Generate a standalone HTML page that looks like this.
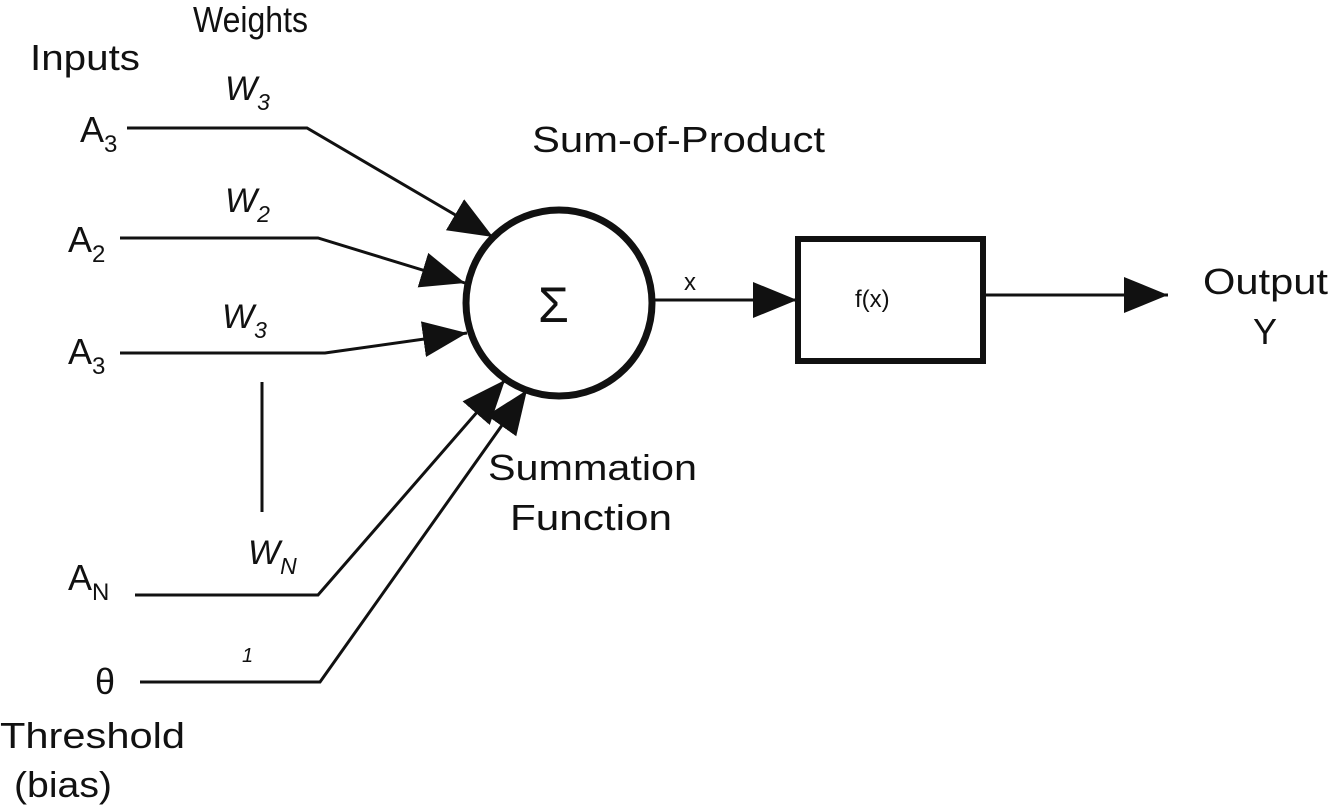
<!DOCTYPE html>
<html><head><style>body{margin:0;background:#fff}svg{display:block}text{font-family:"Liberation Sans",sans-serif;fill:#111}</style></head>
<body>
<svg width="1328" height="808" viewBox="0 0 1328 808" xmlns="http://www.w3.org/2000/svg">
<defs>
<marker id="b" markerWidth="44" markerHeight="36" refX="44" refY="18" orient="auto" markerUnits="userSpaceOnUse"><path d="M0,0 L44,18 L0,36 z" fill="#111"/></marker></defs>
<g stroke="#111" stroke-width="3" fill="none">
<polyline points="127,128 307,128 493,237" marker-end="url(#b)"/>
<polyline points="120,238 318,238 465,283" marker-end="url(#b)"/>
<polyline points="120,353 325,353 467,333" marker-end="url(#b)"/>
<line x1="262" y1="382" x2="262" y2="512"/>
<polyline points="135,595 318,595 505,380" marker-end="url(#b)"/>
<polyline points="140,682 320,682 527,390" marker-end="url(#b)"/>
<line x1="655" y1="300" x2="797" y2="300" marker-end="url(#b)"/>
<line x1="983" y1="295" x2="1168" y2="295" marker-end="url(#b)"/>
<circle cx="559" cy="303" r="93" stroke-width="7"/>
<rect x="798" y="239" width="185" height="122" stroke-width="6"/>
</g>
<text x="30" y="70" font-size="36" textLength="110" lengthAdjust="spacingAndGlyphs">Inputs</text>
<text x="193" y="32" font-size="36" textLength="115" lengthAdjust="spacingAndGlyphs">Weights</text>
<text x="225" y="100" font-size="34" font-style="italic">W<tspan font-size="23" dy="10">3</tspan></text>
<text x="80" y="142" font-size="36">A<tspan font-size="24" dy="10">3</tspan></text>
<text x="225" y="212" font-size="34" font-style="italic">W<tspan font-size="23" dy="10">2</tspan></text>
<text x="68" y="252" font-size="36">A<tspan font-size="24" dy="10">2</tspan></text>
<text x="222" y="328" font-size="34" font-style="italic">W<tspan font-size="23" dy="10">3</tspan></text>
<text x="68" y="364" font-size="36">A<tspan font-size="24" dy="10">3</tspan></text>
<text x="248" y="564" font-size="34" font-style="italic">W<tspan font-size="23" dy="10">N</tspan></text>
<text x="68" y="590" font-size="36">A<tspan font-size="24" dy="10">N</tspan></text>
<text x="242" y="662" font-size="20" font-style="italic">1</text>
<text x="95" y="694" font-size="36" font-family="Liberation Serif">θ</text>
<text x="0" y="748" font-size="36" textLength="185" lengthAdjust="spacingAndGlyphs">Threshold</text>
<text x="14" y="797" font-size="36" textLength="98" lengthAdjust="spacingAndGlyphs">(bias)</text>
<text x="532" y="152" font-size="36" textLength="293" lengthAdjust="spacingAndGlyphs">Sum-of-Product</text>
<text x="538" y="322" font-size="50" font-family="Liberation Serif">Σ</text>
<text x="488" y="480" font-size="36" textLength="209" lengthAdjust="spacingAndGlyphs">Summation</text>
<text x="510" y="530" font-size="36" textLength="162" lengthAdjust="spacingAndGlyphs">Function</text>
<text x="684" y="290" font-size="24">x</text>
<text x="855" y="307" font-size="24">f(x)</text>
<text x="1203" y="294" font-size="36" textLength="125" lengthAdjust="spacingAndGlyphs">Output</text>
<text x="1253" y="344" font-size="36">Y</text>
</svg>
</body></html>
